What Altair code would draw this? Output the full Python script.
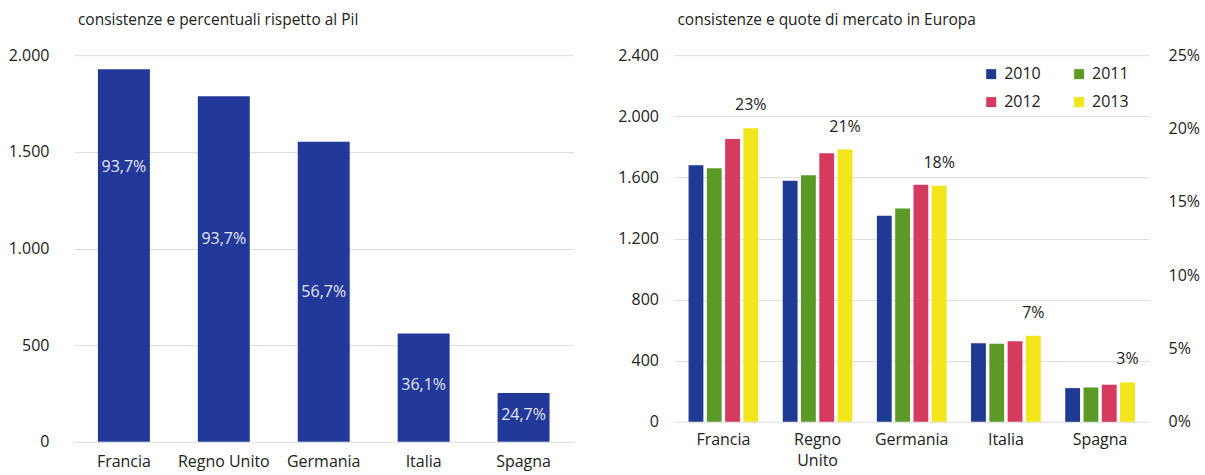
import altair as alt
import pandas as pd

FONT = "Open Sans"

# ---- data ----
countries = ["Francia", "Regno Unito", "Germania", "Italia", "Spagna"]
stock_left = [1927, 1788, 1552, 560, 253]
gdp_pct_labels = ["93,7%", "93,7%", "56,7%", "36,1%", "24,7%"]
label_height = [1420, 1050, 775, 295, 140]

years = ["2010", "2011", "2012", "2013"]
v2010 = [1679, 1578, 1349, 515, 221]
v2011 = [1660, 1614, 1396, 511, 225]
v2012 = [1851, 1758, 1552, 528, 243]
v2013 = [1922, 1782, 1546, 563, 258]
market_share = ["23%", "21%", "18%", "7%", "3%"]
year_colors = ["#1f3a93", "#5b9a26", "#d63a5e", "#f2e51c"]

left_ticks = [0, 500, 1000, 1500, 2000]
right_ticks = [0, 400, 800, 1200, 1600, 2000, 2400]
pct_ticks = [0, 5, 10, 15, 20, 25]

TXT = "#222222"
LBL = 16

# ---- left chart ----
left_df = pd.DataFrame({"paese": countries, "valore": stock_left,
                        "etichetta": gdp_pct_labels, "pos": label_height})

dot_fmt = "replace(format(datum.value, ','), ',', '.')"

xl = alt.X("paese:N", sort=countries, title=None,
           scale=alt.Scale(paddingInner=0.48, paddingOuter=0.24),
           axis=alt.Axis(labelAngle=0, domain=False, ticks=False, labelPadding=12,
                         labelFontSize=LBL, labelColor=TXT, labelFont=FONT))
yl_scale = alt.Scale(domain=[0, 2000], nice=False)

left_bars = alt.Chart(left_df).mark_bar(color="#22399a").encode(
    x=xl,
    y=alt.Y("valore:Q", title=None, scale=yl_scale,
            axis=alt.Axis(values=left_ticks, labelExpr=dot_fmt, domain=False, ticks=False,
                          gridColor="#dddddd", labelPadding=25, labelFontSize=LBL,
                          labelColor=TXT, labelFont=FONT)),
)
left_text = alt.Chart(left_df).mark_text(color="#e3e6f7", fontSize=16, font=FONT).encode(
    x=alt.X("paese:N", sort=countries),
    y=alt.Y("pos:Q", scale=yl_scale),
    text="etichetta:N",
)
left = alt.layer(left_bars, left_text).properties(
    width=500, height=387,
    title=alt.TitleParams("consistenze e percentuali rispetto al Pil", anchor="start",
                          frame="group", dx=4, offset=19, fontSize=15.5,
                          fontWeight="normal", font=FONT, color=TXT),
)

# ---- right chart ----
rows = []
for yr, vals in zip(years, [v2010, v2011, v2012, v2013]):
    for c, v in zip(countries, vals):
        rows.append({"paese": c, "anno": yr, "valore": v})
right_df = pd.DataFrame(rows)
share_df = pd.DataFrame({"paese": countries, "anno": "2013", "valore": v2013,
                         "quota": market_share})
pct_df = pd.DataFrame({"q": [0, 25]})

xr = alt.X("paese:N", sort=countries, title=None,
           scale=alt.Scale(paddingInner=0.26, paddingOuter=0.15),
           axis=alt.Axis(labelAngle=0, domain=False, ticks=False, labelPadding=10,
                         labelFontSize=LBL, labelColor=TXT, labelFont=FONT,
                         labelExpr="datum.value == 'Regno Unito' ? ['Regno', 'Unito'] : datum.value",
                         labelLineHeight=21))
yr_scale = alt.Scale(domain=[0, 2400], nice=False)
xoff = alt.XOffset("anno:N", sort=years, scale=alt.Scale(paddingInner=0.19))

right_bars = alt.Chart(right_df).mark_bar().encode(
    x=xr,
    xOffset=xoff,
    y=alt.Y("valore:Q", title=None, scale=yr_scale,
            axis=alt.Axis(values=right_ticks, labelExpr=dot_fmt, domain=False, ticks=False,
                          gridColor="#dddddd", labelPadding=16, labelFontSize=LBL,
                          labelColor=TXT, labelFont=FONT)),
    color=alt.Color("anno:N", sort=years, scale=alt.Scale(domain=years, range=year_colors),
                    legend=alt.Legend(title=None, orient="none", legendX=910, legendY=11,
                                      direction="horizontal", columns=2,
                                      symbolType="square", symbolSize=100,
                                      symbolStrokeWidth=0, labelFontSize=LBL, labelFont=FONT,
                                      labelColor=TXT, columnPadding=30, rowPadding=12,
                                      labelOffset=5)),
)
right_text = alt.Chart(share_df).mark_text(dy=-23, fontSize=16, font=FONT, color=TXT).encode(
    x=alt.X("paese:N", sort=countries),
    xOffset=alt.XOffset("anno:N", sort=years),
    y=alt.Y("valore:Q", scale=yr_scale, axis=None),
    text="quota:N",
)
right_pct = alt.Chart(pct_df).mark_point(opacity=0).encode(
    y=alt.Y("q:Q", title=None, scale=alt.Scale(domain=[0, 25], nice=False),
            axis=alt.Axis(orient="right", values=pct_ticks, labelExpr="datum.value + '%'",
                          grid=False, domain=False, ticks=False, labelPadding=19,
                          labelFontSize=LBL, labelColor=TXT, labelFont=FONT)),
)
right = alt.layer(right_bars, right_text, right_pct).resolve_scale(y="independent").properties(
    width=475, height=367,
    title=alt.TitleParams("consistenze e quote di mercato in Europa", anchor="start",
                          frame="group", dx=3, offset=19, fontSize=15.5,
                          fontWeight="normal", font=FONT, color=TXT),
)

chart = alt.hconcat(left, right, spacing=44).properties(
    padding={"left": 8, "top": 12, "right": 5, "bottom": 5},
    background="white",
).configure_view(stroke=None)

chart.save("out.html", embed_options={"renderer": "svg", "actions": False})
